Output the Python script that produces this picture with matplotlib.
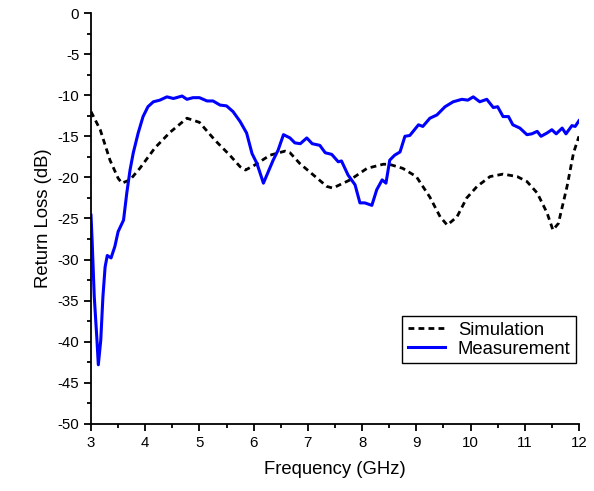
import matplotlib.pyplot as plt
import numpy as np

plt.rcParams['font.family'] = ['Liberation Sans', 'DejaVu Sans']
plt.rcParams['axes.unicode_minus'] = False

# simulated return loss
simFreq = [3.0, 3.17, 3.35, 3.5, 3.57, 3.72, 3.9, 4.18, 4.46, 4.77, 5.0, 5.29, 5.56, 5.75,
           5.85, 6.02, 6.3, 6.58, 6.67, 6.85, 7.1, 7.35, 7.46, 7.78, 8.09, 8.39, 8.5, 8.75,
           9.0, 9.25, 9.44, 9.57, 9.75, 9.93, 10.12, 10.36, 10.6, 10.86, 11.04, 11.23,
           11.41, 11.52, 11.62, 11.78, 11.9, 12.0]
simRL = [-12.0, -14.2, -17.9, -20.1, -20.7, -20.3, -18.9, -16.4, -14.5, -12.8, -13.3, -15.5,
         -17.3, -18.7, -19.1, -18.5, -17.3, -16.8, -17.0, -18.3, -19.7, -21.1, -21.3, -20.3,
         -18.9, -18.4, -18.4, -18.9, -19.9, -22.4, -24.8, -25.8, -24.8, -22.5, -21.1, -19.9,
         -19.6, -19.9, -20.5, -21.9, -24.3, -26.4, -25.6, -21.1, -17.0, -15.0]

# measured return loss
measFreq = [3.0, 3.02, 3.06, 3.11, 3.135, 3.18, 3.22, 3.26, 3.3, 3.37, 3.44, 3.5, 3.6, 3.66,
            3.72, 3.78, 3.87, 3.96, 4.05, 4.15, 4.27, 4.4, 4.52, 4.68, 4.77, 4.88, 5.0, 5.14,
            5.25, 5.38, 5.5, 5.62, 5.75, 5.87, 5.97, 6.06, 6.18, 6.27, 6.36, 6.45, 6.55, 6.67,
            6.76, 6.86, 6.98, 7.08, 7.22, 7.32, 7.44, 7.56, 7.62, 7.74, 7.87, 7.96, 8.05, 8.18,
            8.27, 8.37, 8.44, 8.51, 8.6, 8.7, 8.79, 8.88, 9.04, 9.12, 9.25, 9.38, 9.53, 9.68,
            9.84, 9.95, 10.05, 10.17, 10.3, 10.42, 10.5, 10.6, 10.7, 10.78, 10.91, 11.04,
            11.13, 11.23, 11.3, 11.41, 11.5, 11.58, 11.69, 11.76, 11.87, 11.93, 12.0]
measRL = [-24.6, -27.6, -34.5, -39.8, -42.8, -39.8, -34.5, -30.9, -29.5, -29.8, -28.4, -26.6,
          -25.2, -21.9, -19.1, -17.0, -14.6, -12.6, -11.4, -10.8, -10.6, -10.2, -10.4, -10.1,
          -10.5, -10.3, -10.3, -10.7, -10.7, -11.2, -11.3, -12.0, -13.2, -14.6, -17.1, -18.3,
          -20.7, -19.3, -17.9, -16.7, -14.8, -15.2, -15.8, -15.9, -15.2, -15.9, -16.1, -17.0,
          -17.2, -18.1, -18.0, -19.7, -20.9, -23.1, -23.1, -23.4, -21.5, -20.3, -20.7, -17.9,
          -17.3, -16.9, -15.0, -14.9, -13.6, -13.8, -12.8, -12.4, -11.4, -10.8, -10.5, -10.6,
          -10.2, -10.8, -10.5, -11.5, -11.4, -12.6, -12.6, -13.6, -14.0, -14.8, -14.7, -14.4,
          -15.0, -14.6, -14.2, -14.7, -14.0, -14.7, -13.7, -13.8, -13.1]

fig = plt.figure(figsize=(5.94, 4.91), dpi=100)
ax = fig.add_axes([0.1532, 0.1365, 0.8215, 0.837])

ax.plot(simFreq, simRL, color='black', lw=2, linestyle=(0, (2.1, 1.5)), label='Simulation')
ax.plot(measFreq, measRL, color='#0000ff', lw=2.2, label='Measurement')

ax.set_xlim(3, 12)
ax.set_ylim(-50, 0)
ax.set_xticks(np.arange(3, 13, 1))
ax.set_xticks(np.arange(3.5, 12, 1), minor=True)
ax.set_yticks(np.arange(-50, 1, 5))
ax.set_yticks(np.arange(-47.5, 0, 5), minor=True)

for s in ['top', 'right']:
    ax.spines[s].set_visible(False)
for s in ['left', 'bottom']:
    ax.spines[s].set_linewidth(1.3)
ax.tick_params(which='major', direction='out', length=5, width=1.3, labelsize=10.8)
ax.tick_params(which='minor', direction='out', length=3, width=1.3)

ax.set_xlabel('Frequency (GHz)', fontsize=13.3, labelpad=8)
ax.set_ylabel('Return Loss (dB)', fontsize=13.3, labelpad=4)

leg = ax.legend(loc='lower right', bbox_to_anchor=(0.994, 0.148), borderaxespad=0,
                fontsize=13.3, fancybox=False, framealpha=1, handlelength=2.0,
                borderpad=0.3, labelspacing=0.1, handletextpad=0.7)
leg.get_frame().set_edgecolor('black')
leg.get_frame().set_linewidth(1.0)

plt.savefig('out.png', dpi=100)
